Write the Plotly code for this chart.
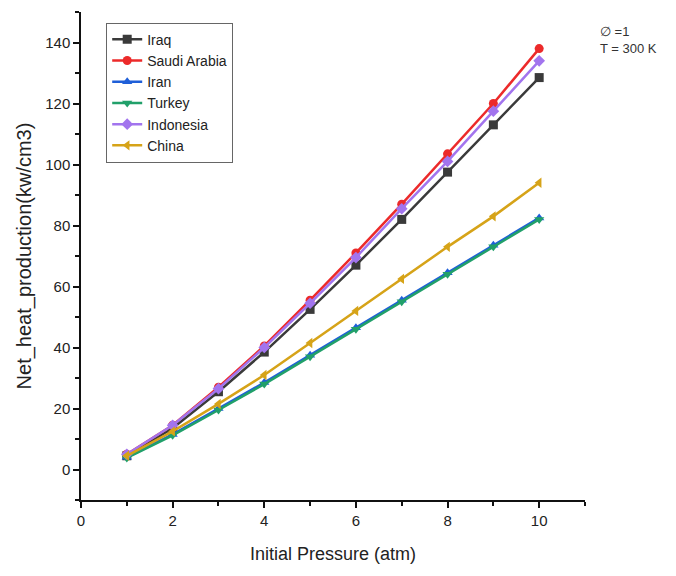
import plotly.graph_objects as go

pressure = [1, 2, 3, 4, 5, 6, 7, 8, 9, 10]
iraq = [4.5, 13.5, 25.5, 38.5, 52.5, 67, 82, 97.5, 113, 128.5]
saudi = [5, 14.5, 27, 40.5, 55.5, 71, 87, 103.5, 120, 138]
iran = [4, 11.5, 20, 28.5, 37.5, 46.5, 55.5, 64.5, 73.5, 82.5]
turkey = [3.8, 11.2, 19.5, 28, 37, 46, 55, 64, 73, 82]
indonesia = [5, 14.5, 26.5, 40, 54.5, 69.5, 85.5, 101, 117.5, 134]
china = [4.5, 12.5, 21.5, 31, 41.5, 52, 62.5, 73, 83, 94]

series = [
    ("Iraq", iraq, "#3a3a3a", "square"),
    ("Saudi Arabia", saudi, "#ec2a2a", "circle"),
    ("Iran", iran, "#1f5fd8", "triangle-up"),
    ("Turkey", turkey, "#21a06a", "triangle-down"),
    ("Indonesia", indonesia, "#a274ee", "diamond"),
    ("China", china, "#d6a318", "triangle-left"),
]

fig = go.Figure()
for name, ys, color, sym in series:
    fig.add_trace(go.Scatter(
        x=pressure, y=ys, name=name, mode="lines+markers",
        line=dict(color=color, width=2.5),
        marker=dict(symbol=sym, size=9, color=color),
    ))

font = "Liberation Sans, Arial, sans-serif"
fig.update_layout(
    width=676, height=576,
    margin=dict(l=81, r=91, t=12, b=76),
    paper_bgcolor="white", plot_bgcolor="white",
    font=dict(family=font, color="#222"),
    showlegend=True,
    legend=dict(
        x=0.05, y=0.978, xanchor="left", yanchor="top",
        bordercolor="#666", borderwidth=1, bgcolor="white",
        font=dict(size=14, family=font), tracegroupgap=0,
        itemwidth=30,
    ),
    xaxis=dict(
        range=[0, 11], tickvals=[0, 2, 4, 6, 8, 10],
        showgrid=False, zeroline=False,
        showline=True, linecolor="#111", linewidth=1.5,
        ticks="outside", ticklen=6, tickwidth=1.5, tickcolor="#111",
        minor=dict(tickvals=[1, 3, 5, 7, 9, 11], ticks="outside", ticklen=4, tickwidth=1.5, tickcolor="#111"),
        tickfont=dict(size=15),
        title=dict(text="Initial Pressure (atm)", font=dict(size=18), standoff=20),
    ),
    yaxis=dict(
        range=[-10, 150], tickvals=[0, 20, 40, 60, 80, 100, 120, 140],
        showgrid=False, zeroline=False,
        showline=True, linecolor="#111", linewidth=1.5,
        ticks="outside", ticklen=6, tickwidth=1.5, tickcolor="#111",
        minor=dict(tickvals=[-10, 10, 30, 50, 70, 90, 110, 130, 150], ticks="outside", ticklen=4, tickwidth=1.5, tickcolor="#111"),
        tickfont=dict(size=15),
        title=dict(text="Net_heat_production(kw/cm3)", font=dict(size=20), standoff=8),
    ),
)

fig.add_annotation(x=1.025, y=0.98, xref="paper", yref="paper", xanchor="left", yanchor="top",
                   text="\u2205 =1<br>T = 300 K", showarrow=False, align="left",
                   font=dict(size=13, family=font, color="#333"))

fig.write_html("out.html")
